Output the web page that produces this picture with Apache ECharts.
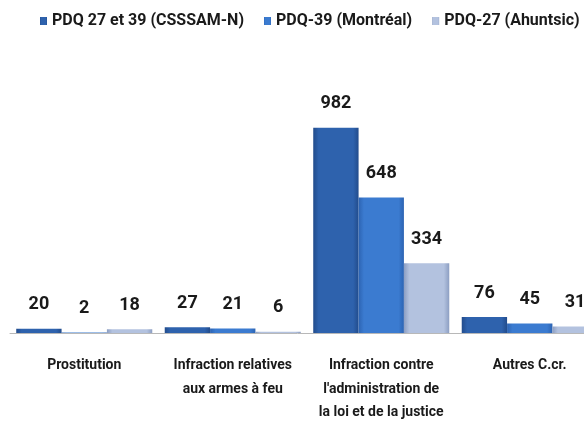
<!DOCTYPE html>
<html><head><meta charset="utf-8">
<script src="https://cdn.jsdelivr.net/npm/echarts@6/dist/echarts.min.js"></script>
<style>html,body{margin:0;padding:0;background:#fff}#c{width:584px;height:432px}</style>
</head><body><div id="c"></div>
<script>
const categories = ["Prostitution", "Infraction relatives\naux armes à feu", "Infraction contre\nl'administration de\nla loi et de la justice", "Autres C.cr."];
const seriesNames = ["PDQ 27 et 39 (CSSSAM-N)", "PDQ-39 (Montréal)", "PDQ-27 (Ahuntsic)"];
const csssam = [20, 27, 982, 76];
const montreal = [2, 21, 648, 45];
const ahuntsic = [18, 6, 334, 31];

const FONT = "Roboto, 'Liberation Sans', sans-serif";
function grad(edge, mid) {
  return new echarts.graphic.LinearGradient(0, 0, 1, 0, [
    {offset: 0, color: edge}, {offset: 0.12, color: mid}, {offset: 0.88, color: mid}, {offset: 1, color: edge}
  ]);
}
const colors = [grad('#224c8c', '#2e62ad'), grad('#2d64b3', '#3b7bd0'), grad('#8c9ec2', '#b3c2df')];
const legendColors = ['#2e62ad', '#3b7bd0', '#a9b9d8'];
const label = {show: true, position: 'top', distance: 15, color: '#1a1a1a', fontFamily: FONT, fontWeight: 'bold', fontSize: 18};
const chart = echarts.init(document.getElementById('c'));
chart.setOption({
  animation: false,
  color: legendColors,
  legend: {
    top: 13, left: 40, width: 580, padding: 0, itemWidth: 7, itemHeight: 8, itemGap: 20, icon: 'rect',
    textStyle: {fontFamily: FONT, fontWeight: 'bold', fontSize: 16, color: '#1a1a1a'},
    data: seriesNames
  },
  grid: {left: 10, width: 594, top: 124, height: 209, containLabel: false, outerBoundsMode: 'none'},
  xAxis: {
    type: 'category', data: categories,
    axisLine: {lineStyle: {color: '#b8b8b8', width: 1}},
    axisTick: {show: false},
    axisLabel: {interval: 0, margin: 21, lineHeight: 23.5, color: '#1a1a1a', fontFamily: FONT, fontWeight: 'bold', fontSize: 14}
  },
  yAxis: {type: 'value', min: 0, max: 1000, show: false, splitLine: {show: false}},
  series: [
    {name: seriesNames[0], type: 'bar', data: csssam, barGap: '0%', barCategoryGap: '8.4%', itemStyle: {color: colors[0]}, label: label},
    {name: seriesNames[1], type: 'bar', data: montreal, itemStyle: {color: colors[1]}, label: label},
    {name: seriesNames[2], type: 'bar', data: ahuntsic, itemStyle: {color: colors[2]}, label: label}
  ]
});
</script></body></html>
